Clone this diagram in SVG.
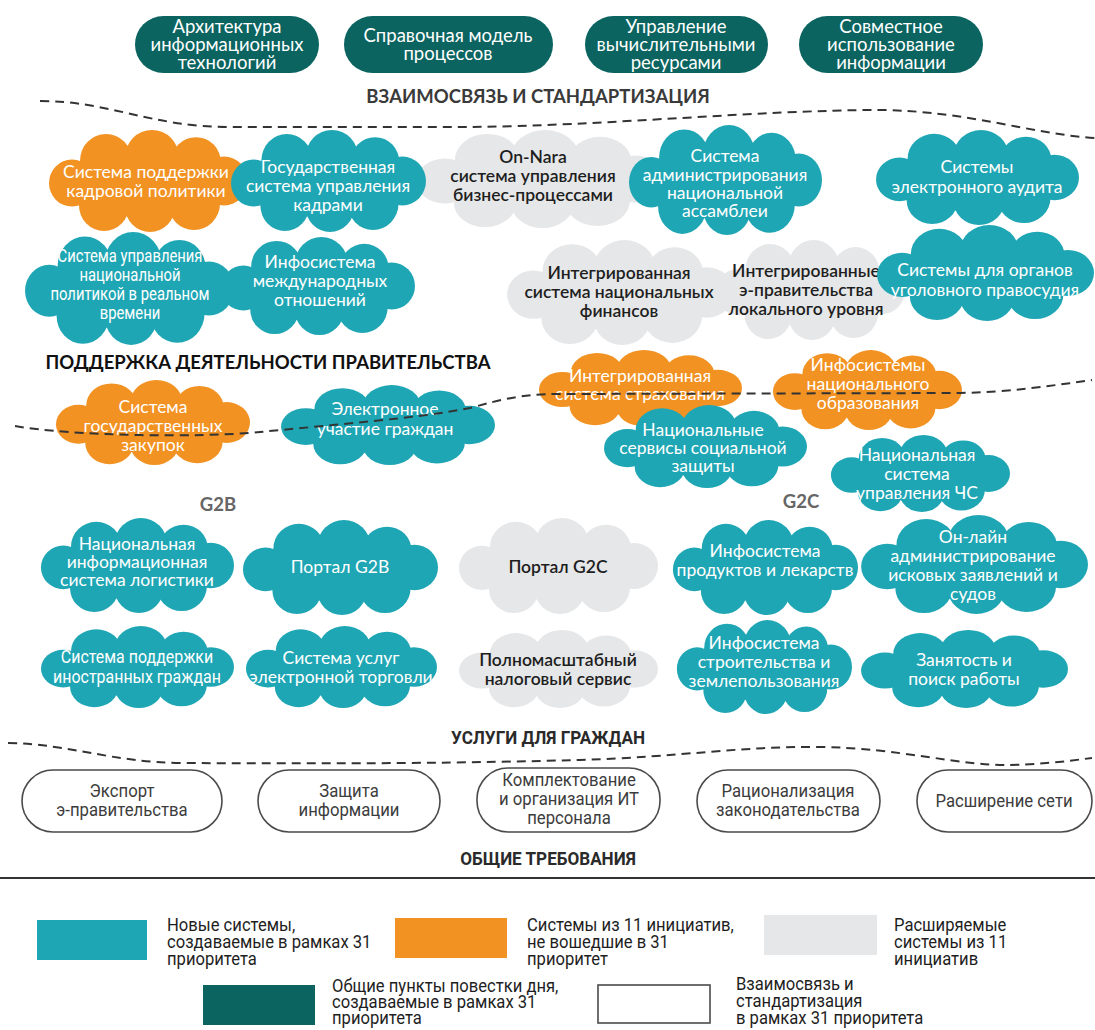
<svg xmlns="http://www.w3.org/2000/svg" xmlns:xlink="http://www.w3.org/1999/xlink" width="1095" height="1030" viewBox="0 0 1095 1030">
  <style>
    .bg { fill: #ffffff; }
    .teal { fill: #1fa6b4; }
    .orange { fill: #f29222; }
    .gray { fill: #e6e7e8; }
    .dark { fill: #0b6460; }
    .pill { fill: #0b6460; }
    .req { fill: #ffffff; stroke: #4a4a4a; stroke-width: 1.6; }
    .txt { font-family: "Lato", "Open Sans", sans-serif; font-size: 17.5px; text-anchor: middle; }
    .w { fill: #ffffff; }
    .k { fill: #1e1e1e; font-weight: 600; }
    .pt { font-family: "Lato", "Open Sans", sans-serif; font-size: 18.5px; fill: #ffffff; text-anchor: middle; }
    .cond { font-family: "Roboto", "Liberation Sans", sans-serif; font-size: 19px; text-anchor: middle; }
    .head { font-family: "Lato", "Open Sans", sans-serif; font-weight: 700; font-size: 18.5px; text-anchor: middle; }
    .headn { font-family: "Roboto", "Liberation Sans", sans-serif; font-weight: 700; font-size: 19px; fill: #2a2a2a; text-anchor: middle; }
    .rt { font-family: "Roboto", "Liberation Sans", sans-serif; font-size: 19px; fill: #3c3c3c; text-anchor: middle; }
    .lg { font-family: "Roboto", "Liberation Sans", sans-serif; font-size: 17.5px; fill: #1e1e1e; }
    .dash { fill: none; stroke: #333333; stroke-width: 2; stroke-dasharray: 9 6; }
    .rule { stroke: #333333; stroke-width: 2; }
  </style>
  <defs>
    <!-- generic cloud outline in a 200 x 100 box -->
    <g id="cloud">
      <ellipse cx="100" cy="52" rx="78" ry="34"/>
      <circle cx="24" cy="52" r="23"/>
      <circle cx="176" cy="50" r="24"/>
      <circle cx="58" cy="30" r="26"/>
      <circle cx="104" cy="27" r="27"/>
      <circle cx="148" cy="32" r="25"/>
      <circle cx="56" cy="74" r="25"/>
      <circle cx="102" cy="75" r="25"/>
      <circle cx="146" cy="72" r="26"/>
    </g>
  </defs>

  <rect class="bg" x="0" y="0" width="1095" height="1030"/>

  <!-- common agenda items -->
  <g id="agenda-architecture">
    <rect class="pill" x="135" y="16" width="184" height="57" rx="28.5"/>
    <text class="pt"><tspan x="227" y="33">Архитектура</tspan><tspan x="227" y="51">информационных</tspan><tspan x="227" y="69">технологий</tspan></text>
  </g>
  <g id="agenda-process-model">
    <rect class="pill" x="344" y="16" width="209" height="57" rx="28.5"/>
    <text class="pt"><tspan x="448" y="42">Справочная модель</tspan><tspan x="448" y="60">процессов</tspan></text>
  </g>
  <g id="agenda-computing">
    <rect class="pill" x="585" y="16" width="183" height="57" rx="28.5"/>
    <text class="pt"><tspan x="676" y="33">Управление</tspan><tspan x="676" y="51">вычислительными</tspan><tspan x="676" y="69">ресурсами</tspan></text>
  </g>
  <g id="agenda-sharing">
    <rect class="pill" x="799" y="16" width="184" height="57" rx="28.5"/>
    <text class="pt"><tspan x="891" y="33">Совместное</tspan><tspan x="891" y="51">использование</tspan><tspan x="891" y="69">информации</tspan></text>
  </g>

  <text class="head" x="538" y="103" fill="#3a3a3a">ВЗАИМОСВЯЗЬ И СТАНДАРТИЗАЦИЯ</text>

  <!-- extended systems (gray) -->
  <g id="onnara">
    <use xlink:href="#cloud" class="gray" transform="translate(415,130) scale(1.25,0.98)"/>
    <text class="txt k"><tspan x="533" y="163">On-Nara</tspan><tspan x="533" y="182">система управления</tspan><tspan x="533" y="201">бизнес-процессами</tspan></text>
  </g>
  <g id="national-finance">
    <use xlink:href="#cloud" class="gray" transform="translate(506,240) scale(1.14,1.05)"/>
    <text class="txt k"><tspan x="619" y="279">Интегрированная</tspan><tspan x="619" y="298">система национальных</tspan><tspan x="619" y="317">финансов</tspan></text>
  </g>
  <g id="local-egov">
    <use xlink:href="#cloud" class="gray" transform="translate(715,240) scale(0.95,1.0)"/>
    <text class="txt k"><tspan x="806" y="277">Интегрированные</tspan><tspan x="806" y="296">э-правительства</tspan><tspan x="806" y="315">локального уровня</tspan></text>
  </g>
  <g id="portal-g2c">
    <use xlink:href="#cloud" class="gray" transform="translate(458,518) scale(1.0,0.96)"/>
    <text class="txt k"><tspan x="558" y="573">Портал G2C</tspan></text>
  </g>
  <g id="tax-service">
    <use xlink:href="#cloud" class="gray" transform="translate(458,630) scale(1.0,0.78)"/>
    <text class="txt k"><tspan x="558" y="666">Полномасштабный</tspan><tspan x="558" y="685">налоговый сервис</tspan></text>
  </g>

  <!-- systems from the 11 initiatives (orange) -->
  <g id="hr-policy">
    <use xlink:href="#cloud" class="orange" transform="translate(48,130) scale(1.0,1.02)"/>
    <text class="txt w"><tspan x="146" y="178">Система поддержки</tspan><tspan x="146" y="197">кадровой политики</tspan></text>
  </g>
  <g id="procurement">
    <use xlink:href="#cloud" class="orange" transform="translate(55,380) scale(0.975,0.85)"/>
    <text class="txt w"><tspan x="153" y="413">Система</tspan><tspan x="153" y="432">государственных</tspan><tspan x="153" y="451">закупок</tspan></text>
  </g>
  <g id="insurance">
    <use xlink:href="#cloud" class="orange" transform="translate(538,350) scale(1.02,0.76)"/>
    <text class="txt w"><tspan x="640" y="382">Интегрированная</tspan><tspan x="640" y="400">система страхования</tspan></text>
  </g>
  <g id="education">
    <use xlink:href="#cloud" class="orange" transform="translate(772,350) scale(0.95,0.8)"/>
    <text class="txt w"><tspan x="868" y="371">Инфосистемы</tspan><tspan x="868" y="390">национального</tspan><tspan x="868" y="409">образования</tspan></text>
  </g>

  <!-- new systems (teal) -->
  <g id="civil-service">
    <use xlink:href="#cloud" class="teal" transform="translate(230,130) scale(0.98,1.02)"/>
    <text class="txt w"><tspan x="328" y="173">Государственная</tspan><tspan x="328" y="192">система управления</tspan><tspan x="328" y="211">кадрами</tspan></text>
  </g>
  <g id="assembly">
    <use xlink:href="#cloud" class="teal" transform="translate(628,125) scale(0.97,1.1)"/>
    <text class="txt w"><tspan x="725" y="162">Система</tspan><tspan x="725" y="181">администрирования</tspan><tspan x="725" y="199">национальной</tspan><tspan x="725" y="217">ассамблеи</tspan></text>
  </g>
  <g id="audit">
    <use xlink:href="#cloud" class="teal" transform="translate(875,130) scale(1.02,0.95)"/>
    <text class="txt w"><tspan x="977" y="173">Системы</tspan><tspan x="977" y="193">электронного аудита</tspan></text>
  </g>
  <g id="foreign-affairs">
    <use xlink:href="#cloud" class="teal" transform="translate(220,237) scale(0.975,0.98)"/>
    <text class="txt w"><tspan x="320" y="268">Инфосистема</tspan><tspan x="320" y="287">международных</tspan><tspan x="320" y="306">отношений</tspan></text>
  </g>
  <g id="realtime-policy">
    <use xlink:href="#cloud" class="teal" transform="translate(24,232) scale(1.05,1.13)"/>
    <text class="cond w" transform="translate(130,0) scale(0.78,1)"><tspan x="0" y="262">Система управления</tspan><tspan x="0" y="281">национальной</tspan><tspan x="0" y="300">политикой в реальном</tspan><tspan x="0" y="319">времени</tspan></text>
  </g>
  <g id="criminal-justice">
    <use xlink:href="#cloud" class="teal" transform="translate(876,225) scale(1.09,0.96)"/>
    <text class="txt w"><tspan x="985" y="276">Системы для органов</tspan><tspan x="985" y="296">уголовного правосудия</tspan></text>
  </g>
  <g id="e-participation">
    <use xlink:href="#cloud" class="teal" transform="translate(280,385) scale(1.075,0.8)"/>
    <text class="txt w"><tspan x="385" y="415">Электронное</tspan><tspan x="385" y="435">участие граждан</tspan></text>
  </g>
  <g id="social-protection">
    <use xlink:href="#cloud" class="teal" transform="translate(603,405) scale(1.02,0.83)"/>
    <text class="txt w"><tspan x="703" y="436">Национальные</tspan><tspan x="703" y="454">сервисы социальной</tspan><tspan x="703" y="472">защиты</tspan></text>
  </g>
  <g id="emergency">
    <use xlink:href="#cloud" class="teal" transform="translate(830,435) scale(0.9,0.77)"/>
    <text class="txt w"><tspan x="917" y="461">Национальная</tspan><tspan x="917" y="480">система</tspan><tspan x="917" y="499">управления ЧС</tspan></text>
  </g>
  <g id="logistics">
    <use xlink:href="#cloud" class="teal" transform="translate(40,518) scale(0.97,0.95)"/>
    <text class="txt w"><tspan x="137" y="550">Национальная</tspan><tspan x="137" y="568">информационная</tspan><tspan x="137" y="586">система логистики</tspan></text>
  </g>
  <g id="portal-g2b">
    <use xlink:href="#cloud" class="teal" transform="translate(242,520) scale(0.98,0.95)"/>
    <text class="txt w"><tspan x="340" y="573">Портал G2B</tspan></text>
  </g>
  <g id="court-claims">
    <use xlink:href="#cloud" class="teal" transform="translate(860,515) scale(1.14,0.99)"/>
    <text class="txt w"><tspan x="973" y="543">Он-лайн</tspan><tspan x="973" y="562">администрирование</tspan><tspan x="973" y="581">исковых заявлений и</tspan><tspan x="973" y="600">судов</tspan></text>
  </g>
  <g id="food-drugs">
    <use xlink:href="#cloud" class="teal" transform="translate(672,520) scale(0.93,0.95)"/>
    <text class="txt w"><tspan x="765" y="557">Инфосистема</tspan><tspan x="765" y="576">продуктов и лекарств</tspan></text>
  </g>
  <g id="foreign-citizens">
    <use xlink:href="#cloud" class="teal" transform="translate(40,626) scale(0.97,0.82)"/>
    <text class="cond w" transform="translate(137,0) scale(0.84,1)"><tspan x="0" y="663">Система поддержки</tspan><tspan x="0" y="683">иностранных граждан</tspan></text>
  </g>
  <g id="e-commerce">
    <use xlink:href="#cloud" class="teal" transform="translate(245,626) scale(0.96,0.82)"/>
    <text class="txt w"><tspan x="341" y="664">Система услуг</tspan><tspan x="341" y="683">электронной торговли</tspan></text>
  </g>
  <g id="construction-land">
    <use xlink:href="#cloud" class="teal" transform="translate(676,620) scale(0.88,0.94)"/>
    <text class="txt w"><tspan x="764" y="649">Инфосистема</tspan><tspan x="764" y="668">строительства и</tspan><tspan x="764" y="687">землепользования</tspan></text>
  </g>
  <g id="employment">
    <use xlink:href="#cloud" class="teal" transform="translate(860,630) scale(1.04,0.78)"/>
    <text class="txt w"><tspan x="964" y="666">Занятость и</tspan><tspan x="964" y="685">поиск работы</tspan></text>
  </g>

  <!-- section labels -->
  <text class="head" x="268" y="369" fill="#111111">ПОДДЕРЖКА ДЕЯТЕЛЬНОСТИ ПРАВИТЕЛЬСТВА</text>
  <text class="head" x="218" y="511" fill="#666666" font-size="20">G2B</text>
  <text class="head" x="801" y="508" fill="#666666" font-size="20">G2C</text>
  <text class="headn" transform="translate(548,0) scale(0.9,1)" x="0" y="744">УСЛУГИ ДЛЯ ГРАЖДАН</text>

  <!-- dividing lines between zones -->
  <g id="connectors">
    <path class="dash" d="M 40 101 C 110 101, 150 127, 230 127 L 470 127 C 600 126, 760 110, 880 110 C 970 111, 1030 134, 1095 138"/>
    <path class="dash" d="M 15 426 C 70 436, 200 438, 260 432 C 330 425, 420 418, 470 408 C 500 400, 520 394, 560 394 L 960 393 C 1010 392, 1050 386, 1092 380"/>
    <path class="dash" d="M 8 743 C 70 744, 110 762, 180 763 C 350 764, 470 763, 580 760 C 680 757, 740 746, 820 747 C 900 748, 960 766, 1010 765 C 1050 764, 1075 760, 1092 758"/>
    <line class="rule" x1="0" y1="878" x2="1095" y2="878"/>
  </g>

  <!-- general requirements -->
  <g id="req-export">
    <rect class="req" x="22" y="770" width="200" height="62" rx="31"/>
    <text class="rt" transform="translate(122,0) scale(0.88,1)"><tspan x="0" y="797">Экспорт</tspan><tspan x="0" y="816">э-правительства</tspan></text>
  </g>
  <g id="req-security">
    <rect class="req" x="258" y="770" width="182" height="62" rx="31"/>
    <text class="rt" transform="translate(349,0) scale(0.88,1)"><tspan x="0" y="797">Защита</tspan><tspan x="0" y="816">информации</tspan></text>
  </g>
  <g id="req-staffing">
    <rect class="req" x="477" y="768" width="183" height="64" rx="31"/>
    <text class="rt" transform="translate(569,0) scale(0.88,1)"><tspan x="0" y="786">Комплектование</tspan><tspan x="0" y="805">и организация ИТ</tspan><tspan x="0" y="824">персонала</tspan></text>
  </g>
  <g id="req-legislation">
    <rect class="req" x="697" y="770" width="183" height="62" rx="31"/>
    <text class="rt" transform="translate(788,0) scale(0.88,1)"><tspan x="0" y="797">Рационализация</tspan><tspan x="0" y="816">законодательства</tspan></text>
  </g>
  <g id="req-network">
    <rect class="req" x="917" y="770" width="175" height="62" rx="31"/>
    <text class="rt" transform="translate(1004,0) scale(0.88,1)"><tspan x="0" y="807">Расширение сети</tspan></text>
  </g>

  <text class="headn" transform="translate(548,0) scale(0.9,1)" x="0" y="865">ОБЩИЕ ТРЕБОВАНИЯ</text>

  <!-- legend -->
  <g id="legend">
    <rect class="teal" x="37" y="920" width="110" height="40"/>
    <text class="lg" transform="translate(167,0) scale(0.95,1)"><tspan x="0" y="931">Новые системы,</tspan><tspan x="0" y="948">создаваемые в рамках 31</tspan><tspan x="0" y="965">приоритета</tspan></text>
    <rect class="orange" x="395" y="918" width="112" height="40"/>
    <text class="lg" transform="translate(527,0) scale(0.95,1)"><tspan x="0" y="931">Системы из 11 инициатив,</tspan><tspan x="0" y="948">не вошедшие в 31</tspan><tspan x="0" y="965">приоритет</tspan></text>
    <rect class="gray" x="764" y="915" width="113" height="40"/>
    <text class="lg" transform="translate(894,0) scale(0.95,1)"><tspan x="0" y="931">Расширяемые</tspan><tspan x="0" y="948">системы из 11</tspan><tspan x="0" y="965">инициатив</tspan></text>
    <rect class="dark" x="203" y="985" width="112" height="40"/>
    <text class="lg" transform="translate(332,0) scale(0.95,1)"><tspan x="0" y="992">Общие пункты повестки дня,</tspan><tspan x="0" y="1008">создаваемые в рамках 31</tspan><tspan x="0" y="1024">приоритета</tspan></text>
    <rect class="req" x="598" y="985" width="112" height="38"/>
    <text class="lg" transform="translate(736,0) scale(0.95,1)"><tspan x="0" y="990">Взаимосвязь и</tspan><tspan x="0" y="1007">стандартизация</tspan><tspan x="0" y="1024">в рамках 31 приоритета</tspan></text>
  </g>
</svg>
